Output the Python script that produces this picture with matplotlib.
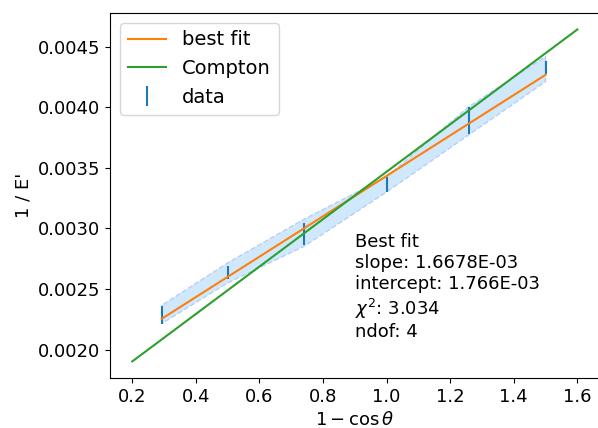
import numpy as np
import matplotlib
matplotlib.use("Agg")
import matplotlib.pyplot as plt

# scattering data: 1 - cos(theta) and 1/E'
x = np.array([0.293, 0.5, 0.741, 1.0, 1.259, 1.5])
y = np.array([0.002287, 0.002635, 0.002957, 0.003360, 0.003891, 0.004326])
yerr = np.array([0.000072, 0.000055, 0.000091, 0.000062, 0.000110, 0.000055])

# uncertainty band edges
band_lo = np.array([0.002215, 0.002550, 0.002853, 0.003301, 0.003773, 0.004212])
band_hi = np.array([0.002365, 0.002715, 0.003077, 0.003425, 0.004005, 0.004419])

# fit results
slope = 1.6678e-03
intercept = 1.766e-03
chi2 = 3.034
ndof = 4

# Compton prediction end points
compton_x = np.array([0.2, 1.6])
compton_y = np.array([0.001902, 0.004642])

plt.rcParams['font.size'] = 13

fig = plt.figure(figsize=(5.98, 4.28), dpi=100)
ax = fig.add_axes([0.1840, 0.1168, 0.8186, 0.853])

ax.errorbar(x, y, yerr=yerr, fmt='none', color='C0', label='data')
ax.fill_between(x, band_lo, band_hi, facecolor='#cfe8fb', edgecolor='#b8cff5',
                linestyle='--', linewidth=1)
ax.plot(x, slope * x + intercept, color='C1', label='best fit')
ax.plot(compton_x, compton_y, color='C2', label='Compton')

ax.text(0.9, 0.0021,
        "Best fit\nslope: %.4E\nintercept: %.3E\n$\\chi^2$: %.3f\nndof: %d"
        % (slope, intercept, chi2, ndof))

ax.set_xlabel(r'$1 - \cos\theta$')
ax.set_ylabel("1 / E'")
ax.legend(loc='upper left', fontsize=14)

fig.savefig('out.png')
